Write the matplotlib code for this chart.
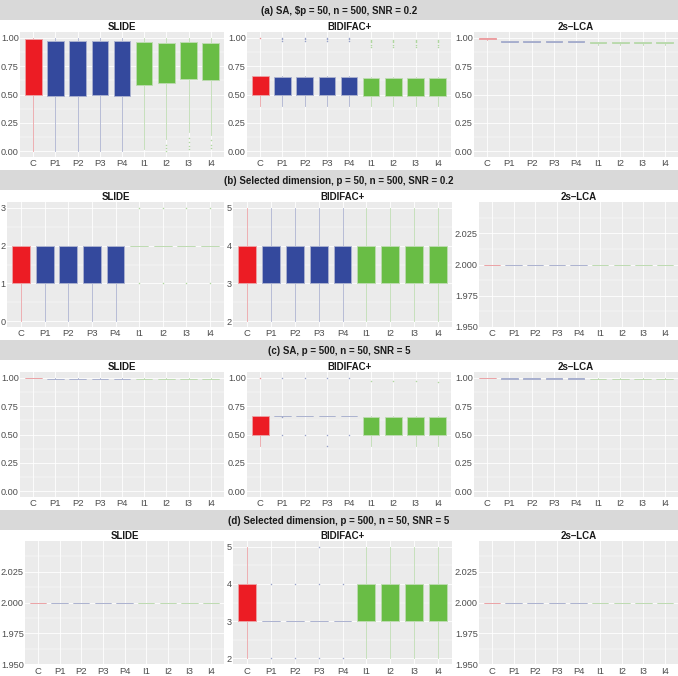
import matplotlib.pyplot as plt
from matplotlib.patches import Rectangle
from matplotlib.colors import to_rgba

plt.rcParams["font.family"] = ["Liberation Sans", "DejaVu Sans"]

W, H = 678, 676

groups = ["C", "P1", "P2", "P3", "P4", "I1", "I2", "I3", "I4"]
methods = ["SLIDE", "BIDIFAC+", "2s\u2013LCA"]
row_titles = [
    "(a) SA, \\$p = 50, n = 500, SNR = 0.2",
    "(b) Selected dimension, p = 50, n = 500, SNR = 0.2",
    "(c) SA, p = 500, n = 50, SNR = 5",
    "(d) Selected dimension, p = 500, n = 50, SNR = 5",
]

# box stats per group: (whisker low, q1, median, q3, whisker high)
a_slide = [(0.00, 0.50, 0.985, 0.985, 1.00), (0.00, 0.49, 0.97, 0.97, 1.00),
           (0.00, 0.49, 0.97, 0.97, 1.00), (0.00, 0.495, 0.97, 0.97, 1.00),
           (0.00, 0.49, 0.97, 0.97, 1.00), (0.02, 0.58, 0.96, 0.96, 1.00),
           (0.11, 0.605, 0.955, 0.955, 1.00), (0.17, 0.64, 0.96, 0.96, 1.00),
           (0.14, 0.63, 0.955, 0.955, 1.00)]
a_slide_out = [[], [], [], [], [], [], [0.06, 0.03, 0.0],
               [0.12, 0.08, 0.05, 0.02], [0.10, 0.06, 0.03]]
a_bidi = [(0.40, 0.50, 0.50, 0.66, 0.667)] + [(0.40, 0.50, 0.50, 0.655, 0.66)] * 4 \
    + [(0.40, 0.49, 0.49, 0.645, 0.65)] * 4
a_bidi_out = [[1.0]] + [[0.97, 0.99, 1.0]] * 4 + [[0.92, 0.94, 0.96, 0.97, 0.98]] * 4
a_lca = [(0.98, 0.988, 0.99, 0.995, 1.0)] + [(0.96, 0.966, 0.97, 0.972, 0.975)] * 4 \
    + [(0.94, 0.956, 0.96, 0.962, 0.965)] * 4
a_lca_out = [[]] * 9

b_slide = [(0, 1, 2, 2, 2)] * 5 + [(2, 2, 2, 2, 2)] * 4
b_slide_out = [[]] * 5 + [[1, 3]] * 4
b_bidi = [(2, 3, 3, 4, 5)] * 9
b_bidi_out = [[]] * 9
b_lca = [(2, 2, 2, 2, 2)] * 9
b_lca_out = [[]] * 9

c_slide = [(0.995, 1.0, 1.0, 1.0, 1.0)] + [(0.985, 0.99, 0.99, 0.992, 1.0)] * 4 \
    + [(0.985, 0.99, 0.99, 0.99, 1.0)] * 4
c_slide_out = [[]] * 9
c_bidi = [(0.40, 0.50, 0.50, 0.667, 0.667)] + [(0.667, 0.667, 0.667, 0.667, 0.667)] * 4 \
    + [(0.40, 0.50, 0.50, 0.657, 0.667), (0.50, 0.50, 0.50, 0.657, 0.667),
       (0.40, 0.50, 0.50, 0.657, 0.667), (0.40, 0.50, 0.50, 0.657, 0.667)]
c_bidi_out = [[1.0], [1.0, 0.65, 0.5], [1.0, 0.5], [1.0, 0.5, 0.4], [1.0, 0.5],
              [0.97], [0.97], [0.97], [0.96]]
c_lca = [(1.0, 1.0, 1.0, 1.0, 1.0)] + [(0.985, 0.99, 0.99, 0.993, 0.995)] * 4 \
    + [(0.985, 0.99, 0.99, 0.99, 0.995)] * 4
c_lca_out = [[]] * 9

d_slide = [(2, 2, 2, 2, 2)] * 9
d_slide_out = [[]] * 9
d_bidi = [(2, 3, 3, 4, 5)] + [(3, 3, 3, 3, 3)] * 4 + [(2, 3, 3, 4, 5)] * 4
d_bidi_out = [[], [2, 4], [2, 4], [2, 4, 5], [2, 4], [], [], [], []]
d_lca = [(2, 2, 2, 2, 2)] * 9
d_lca_out = [[]] * 9

rows = [
    [(a_slide, a_slide_out), (a_bidi, a_bidi_out), (a_lca, a_lca_out)],
    [(b_slide, b_slide_out), (b_bidi, b_bidi_out), (b_lca, b_lca_out)],
    [(c_slide, c_slide_out), (c_bidi, c_bidi_out), (c_lca, c_lca_out)],
    [(d_slide, d_slide_out), (d_bidi, d_bidi_out), (d_lca, d_lca_out)],
]

# y scales: (limits, major ticks, label format)
sa_scale = ((-0.05, 1.05), [0, 0.25, 0.5, 0.75, 1.0], "{:.2f}")
dim3_scale = ((-0.15, 3.15), [0, 1, 2, 3], "{:.0f}")
dim5_scale = ((1.85, 5.15), [2, 3, 4, 5], "{:.0f}")
flat_scale = ((1.95, 2.05), [1.95, 1.975, 2.0, 2.025], "{:.3f}")
scales = [
    [sa_scale, sa_scale, sa_scale],
    [dim3_scale, dim5_scale, flat_scale],
    [sa_scale, sa_scale, sa_scale],
    [flat_scale, dim5_scale, flat_scale],
]

# panel left/right edges in pixels per row
panel_x = [
    [(20, 224), (247, 451), (474, 678)],
    [(7, 224), (233, 452), (479, 678)],
    [(20, 224), (247, 451), (474, 678)],
    [(25, 224), (233, 452), (479, 678)],
]
row_top = [0, 170, 340, 510]
# panel top/bottom offsets from the row's strip top
panel_y = [(32, 157), (32, 157), (32, 157), (31, 154)]

col_of = {"C": "#EC1C24", "P": "#34499D", "I": "#69BD45"}
colors = [col_of[g[0]] for g in groups]


def light(c, a=0.35):
    r, g, b, _ = to_rgba(c)
    return (r * a + 0.92 * (1 - a), g * a + 0.92 * (1 - a), b * a + 0.92 * (1 - a))


fig = plt.figure(figsize=(W / 100, H / 100), dpi=100)

for r in range(4):
    top = row_top[r]
    fig.add_artist(Rectangle((0, 1 - (top + 20) / H), 1, 20 / H,
                             transform=fig.transFigure, facecolor="#D9D9D9",
                             edgecolor="none"))
    fig.text(0.5, 1 - (top + 10.5) / H, row_titles[r], ha="center", va="center",
             fontsize=7, fontweight="bold", color="#1A1A1A")

    for c in range(3):
        left, right = panel_x[r][c]
        ptop, pbot = top + panel_y[r][0], top + panel_y[r][1]
        ax = fig.add_axes([left / W, 1 - pbot / H, (right - left) / W, (pbot - ptop) / H])
        ax.set_facecolor("#EBEBEB")
        for s in ax.spines.values():
            s.set_visible(False)

        box_vals, outs = rows[r][c]
        stats = []
        for (lo, q1, med, q3, hi), fl in zip(box_vals, outs):
            stats.append(dict(whislo=lo, q1=q1, med=med, q3=q3, whishi=hi, fliers=fl))
        res = ax.bxp(stats, positions=range(1, 10), widths=0.75, patch_artist=True,
                     showcaps=False, manage_ticks=False, zorder=3)
        for i, col in enumerate(colors):
            lc = light(col)
            res["boxes"][i].set_facecolor(col)
            res["boxes"][i].set_edgecolor(lc)
            res["boxes"][i].set_linewidth(0.6)
            res["medians"][i].set_color(lc)
            res["medians"][i].set_linewidth(0.6)
            for wl in res["whiskers"][2 * i:2 * i + 2]:
                wl.set_color(lc)
                wl.set_linewidth(0.6)
            fl = res["fliers"][i]
            fl.set_marker("o")
            fl.set_markersize(1.1)
            fl.set_markerfacecolor(light(col, 0.45))
            fl.set_markeredgecolor("none")

        (ylo, yhi), ticks, fmt = scales[r][c]
        ax.set_ylim(ylo, yhi)
        ax.set_xlim(0.4, 9.6)
        ax.set_yticks(ticks)
        ax.set_yticklabels([fmt.format(t) for t in ticks])
        step = ticks[1] - ticks[0]
        ax.set_yticks([t + step / 2 for t in [ticks[0] - step] + ticks
                       if ylo < t + step / 2 < yhi], minor=True)
        ax.set_xticks(range(1, 10))
        ax.set_xticklabels(groups)
        ax.tick_params(axis="y", length=0, labelsize=6.6, labelcolor="#4D4D4D", pad=0.8)
        ax.tick_params(axis="x", length=0, labelsize=6.8, labelcolor="#4D4D4D", pad=1.8)
        ax.tick_params(which="minor", length=0)
        ax.grid(True, which="major", color="white", linewidth=0.6, zorder=0)
        ax.grid(True, which="minor", axis="y", color="white", linewidth=0.3, zorder=0)
        ax.set_axisbelow(True)
        ax.set_title(methods[c], fontsize=7, fontweight="bold", color="#1A1A1A", pad=1.5)

fig.savefig("out.png", dpi=100)
